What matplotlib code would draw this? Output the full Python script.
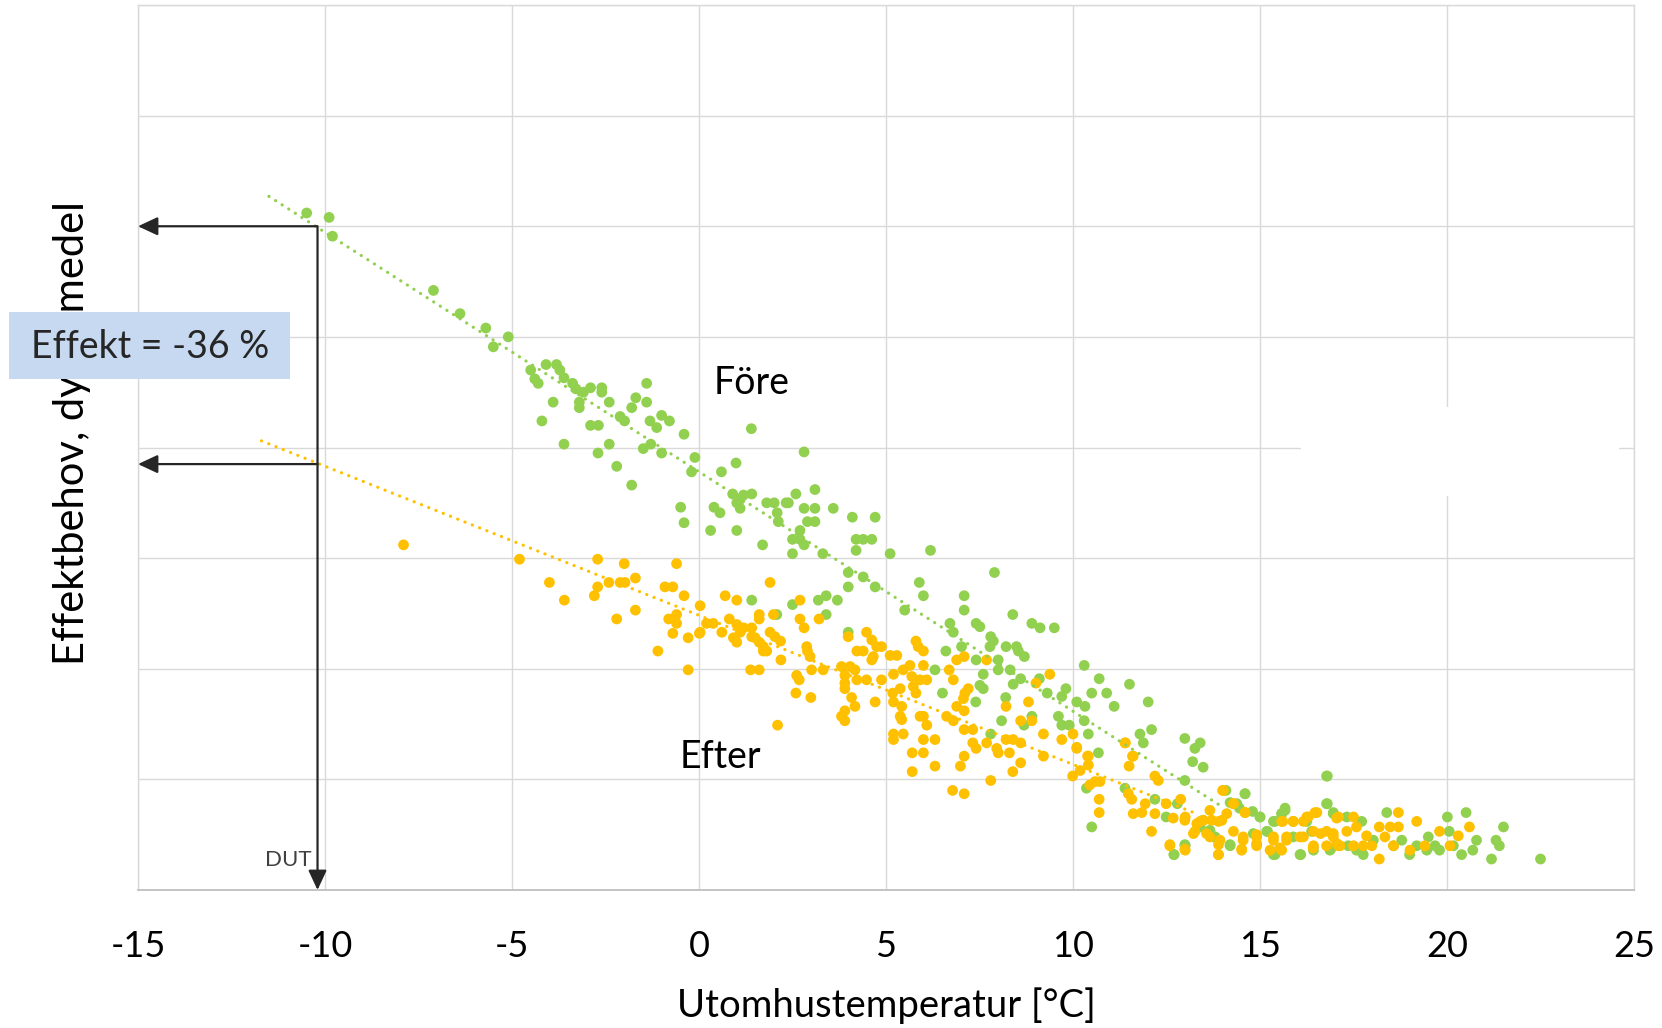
import matplotlib
matplotlib.use("Agg")
import matplotlib.pyplot as plt
from matplotlib.patches import Rectangle

plt.rcParams['font.family'] = ['Lato', 'DejaVu Sans']
plt.rcParams['axes.unicode_minus'] = False

# ---------------- data ----------------
fore_x = [-10.49, -9.89, -9.80, -7.10, -6.39, -5.70, -5.10, -5.50, -4.50, -4.39, -4.30, -4.09, -3.81, -3.72,
          -3.90, -4.20, -3.61, -3.38, -3.29, -3.09, -2.90, -2.60, -2.60, -3.20, -3.20, -2.40, -1.80, -1.69,
          -1.40, -1.40, -2.11, -1.99, -2.90, -2.69, -3.61, -2.40, -2.70, -2.20, -1.80, -1.31, -1.13, -1.00,
          -0.79, -0.40, -1.49, -1.29, -1.00, -0.11, -0.20, 0.60, 0.99, 0.90, -0.49, 0.40, -0.40, 1.40,
          2.81, 1.10, 1.19, 1.41, 1.01, 1.10, 0.56, 0.31, 1.01, 1.81, 2.01, 2.09, 2.12, 2.33, 2.39, 2.59,
          3.10, 2.81, 3.10, 3.59, 2.90, 3.10, 2.70, 2.50, 2.70, 2.81, 1.70, 2.50, 3.31, 4.10, 4.71, 4.20,
          4.39, 4.62, 4.20, 5.11, 6.19, 3.99, 3.99, 4.39, 4.71, 1.41, 2.50, 3.19, 3.40, 3.70, 3.40, 2.08,
          7.90, 5.89, 6.00, 5.50, 7.09, 7.09, 8.39, 6.71, 6.80, 7.41, 7.51, 7.80, 7.87, 8.90, 9.12, 9.50,
          3.99, 7.02, 6.60, 7.78, 8.21, 8.49, 8.54, 8.70, 7.41, 8.00, 8.00, 8.32, 6.31, 7.60, 7.51, 7.60,
          8.60, 8.40, 9.10, 10.30, 10.70, 11.51, 9.81, 10.50, 10.90, 9.31, 9.70, 10.10, 10.32, 12.01, 11.10,
          8.20, 6.51, 7.40, 8.90, 9.61, 9.70, 9.90, 10.30, 8.09, 8.69, 12.10, 11.79, 11.88, 10.41, 10.68,
          7.80,
          12.99, 13.40, 13.26, 13.20, 13.48, 12.99, 16.80, 14.60, 14.09, 14.20, 14.45, 14.80, 15.00, 15.67,
          15.58, 16.80, 16.96, 15.40, 15.20, 15.89, 16.25, 16.38, 12.70, 12.99, 14.20, 15.40, 16.09, 16.89,
          13.66, 13.75, 14.82, 11.39, 12.19, 12.49, 12.79, 13.48, 10.50, 10.36,
          18.39, 20.01, 20.51, 21.51, 21.31, 21.40, 20.79, 20.69, 20.39, 21.19, 22.50, 19.50, 19.68, 19.80,
          19.00, 18.79, 20.06, 19.46, 17.76, 17.58, 17.36, 18.03, 18.57, 19.19, 20.17, 17.72, 17.32,
          15.36, 15.67, 15.58, 16.78, 16.78, 16.96, 15.36, 16.07, 16.43, 16.87, 15.00, 15.18, 14.20, 13.80,
          12.70, 13.00, 14.60, 14.38, 13.40, 13.66, 15.89]
fore_y = [6.12, 6.08, 5.91, 5.42, 5.21, 5.08, 5.00, 4.91, 4.70, 4.62, 4.58, 4.75, 4.75, 4.70,
          4.41, 4.24, 4.63, 4.58, 4.53, 4.50, 4.54, 4.54, 4.50, 4.41, 4.36, 4.41, 4.36, 4.45,
          4.58, 4.41, 4.28, 4.24, 4.20, 4.20, 4.03, 4.03, 3.95, 3.83, 3.66, 4.24, 4.18, 4.29,
          4.24, 4.12, 3.99, 4.03, 3.95, 3.91, 3.78, 3.78, 3.86, 3.58, 3.46, 3.46, 3.32, 4.17,
          3.96, 3.53, 3.57, 3.58, 3.50, 3.45, 3.41, 3.25, 3.25, 3.50, 3.50, 3.41, 3.33, 3.50, 3.50, 3.58,
          3.62, 3.45, 3.45, 3.45, 3.33, 3.33, 3.25, 3.17, 3.17, 3.12, 3.12, 3.04, 3.04, 3.37, 3.37, 3.17,
          3.17, 3.17, 3.07, 3.04, 3.07, 2.87, 2.74, 2.83, 2.74, 2.62, 2.58, 2.62, 2.66, 2.62, 2.49, 2.49,
          2.87, 2.78, 2.66, 2.53, 2.66, 2.53, 2.49, 2.41, 2.33, 2.41, 2.38, 2.29, 2.25, 2.41, 2.37, 2.37,
          2.33, 2.20, 2.16, 2.20, 2.20, 2.20, 2.16, 2.11, 2.08, 2.08, 1.99, 1.99, 1.99, 1.95, 1.85, 1.82,
          1.91, 1.86, 1.91, 2.03, 1.91, 1.86, 1.82, 1.78, 1.78, 1.78, 1.75, 1.70, 1.66, 1.70, 1.66,
          1.74, 1.78, 1.70, 1.57, 1.57, 1.49, 1.49, 1.53, 1.53, 1.49, 1.45, 1.41, 1.33, 1.41, 1.24,
          1.41,
          1.37, 1.33, 1.28, 1.16, 1.11, 0.99, 1.03, 0.87, 0.90, 0.79, 0.74, 0.71, 0.66, 0.74,
          0.69, 0.78, 0.69, 0.62, 0.53, 0.62, 0.62, 0.53, 0.32, 0.41, 0.41, 0.32, 0.32, 0.37,
          0.54, 0.48, 0.51, 0.92, 0.82, 0.66, 0.78, 0.63, 0.57, 0.92,
          0.70, 0.66, 0.70, 0.57, 0.45, 0.40, 0.45, 0.36, 0.32, 0.28, 0.28, 0.48, 0.40, 0.36,
          0.32, 0.45, 0.53, 0.36, 0.32, 0.36, 0.40, 0.45, 0.40, 0.40, 0.40, 0.62, 0.66,
          0.62, 0.72, 0.69, 1.03, 0.78, 0.70, 0.32, 0.32, 0.36, 0.36, 0.66, 0.53, 0.40, 0.48,
          0.32, 0.40, 0.87, 0.78, 0.57, 0.53, 0.48]

efter_x = [-7.90, -4.80, -4.00, -3.60, -2.71, -2.00, -0.60, -2.71, -2.80, -2.41, -2.11, -1.98, -1.70,
           -1.70, -2.20, -0.91, -0.70, -0.40, -0.60, -0.81, -0.60, -0.70, -0.29, 0.01, -1.10, -0.29,
           1.90, 0.70, 1.01, 2.70, 0.03, 1.99, 1.61, 1.61, 2.70, 3.21, 0.20, 0.38, 0.81, 1.01, 1.19, 1.41,
           2.81, 0.03, 0.61, 1.10, 1.41, 1.50, 0.92, 1.01, 1.90, 2.03, 2.18, 1.61, 1.72, 1.72, 1.81, 2.19,
           2.88, 2.90, 2.97, 3.99, 4.48, 4.62, 4.75, 4.88, 4.22, 4.39, 4.66, 4.62, 5.11, 5.29, 5.80, 6.00,
           5.86, 1.38, 1.61, 2.61, 2.68, 3.01, 3.32, 3.81, 4.04, 4.17, 3.90, 4.22, 4.48, 4.88, 5.20, 5.46,
           5.64, 6.00, 5.69, 5.91, 6.09, 3.90, 3.90, 2.59, 2.99, 4.08, 4.17, 3.90, 3.81, 3.90, 4.71, 5.18,
           5.20, 5.38, 5.42, 5.38, 5.42, 5.73, 5.80, 5.91, 6.09, 6.00, 2.10, 6.69, 6.80, 6.89, 7.09, 7.69,
           7.20, 7.11, 7.07, 6.89, 7.09, 6.62, 6.80, 9.38, 9.01, 8.81, 8.21, 8.60, 8.90, 7.09, 7.32, 5.20,
           5.46, 5.20, 6.00, 6.31, 5.70, 6.00, 9.21, 9.70, 10.00, 10.10, 11.40, 11.61, 7.69, 8.21, 8.40,
           8.60, 7.96, 8.00, 8.30, 7.32, 7.41, 7.09, 10.39, 9.21,
           14.00, 14.29, 14.60, 15.61, 15.89, 16.25, 16.47, 16.62, 16.96, 17.05, 17.05, 15.36, 15.71,
           14.91, 14.51, 14.91, 14.55, 16.16, 16.42, 15.53, 13.89, 13.89, 13.57, 13.71, 13.66, 13.98,
           14.11, 13.22, 13.31, 12.99, 12.68, 12.59, 12.99, 13.48, 12.10, 12.49, 12.88, 12.19, 11.93,
           11.61, 11.84, 11.57, 11.48, 12.28, 12.19, 10.59, 10.45, 10.72, 10.70, 10.70, 9.99, 10.19,
           10.41, 10.41, 11.50, 11.59, 11.39, 10.10, 6.78, 7.09, 7.80, 8.39, 6.99, 5.70, 6.31, 8.60,
           18.70, 19.19, 20.60, 20.30, 19.80, 20.08, 18.19, 18.19, 18.48, 18.70, 18.34, 18.57, 19.01,
           19.41, 17.50, 17.58, 17.32, 17.85, 17.50, 17.14, 17.76, 17.99,
           15.58, 15.89, 16.16, 16.52, 16.29, 16.43, 16.78, 16.96, 17.10, 17.10, 16.78, 16.43, 16.07,
           15.71, 15.36, 14.91, 14.55, 14.29, 14.51, 14.91, 15.27, 15.58, 14.29, 14.02, 14.60, 13.89,
           13.89, 13.66, 13.40, 13.00, 13.00, 12.59, 13.26, 13.93]
efter_y = [3.12, 2.99, 2.78, 2.62, 2.99, 2.95, 2.95, 2.74, 2.66, 2.78, 2.78, 2.78, 2.82,
           2.53, 2.45, 2.74, 2.74, 2.66, 2.49, 2.45, 2.41, 2.32, 2.28, 2.32, 2.16, 1.99,
           2.78, 2.66, 2.62, 2.62, 2.57, 2.49, 2.49, 2.45, 2.45, 2.45, 2.41, 2.41, 2.45, 2.40, 2.37, 2.37,
           2.37, 2.33, 2.33, 2.33, 2.29, 2.28, 2.28, 2.24, 2.33, 2.29, 2.25, 2.24, 2.20, 2.16, 2.16, 2.08,
           2.20, 2.16, 2.11, 2.29, 2.33, 2.26, 2.20, 2.20, 2.16, 2.16, 2.11, 2.08, 2.12, 2.12, 2.25, 2.16,
           2.20, 1.99, 1.99, 1.94, 1.90, 1.99, 1.99, 2.02, 2.02, 1.99, 1.94, 1.90, 1.90, 1.90, 1.95, 1.99,
           2.03, 2.03, 1.93, 1.90, 1.90, 1.87, 1.82, 1.78, 1.74, 1.74, 1.66, 1.62, 1.57, 1.53, 1.70, 1.78,
           1.70, 1.82, 1.66, 1.57, 1.54, 1.84, 1.78, 1.57, 1.49, 1.57, 1.49, 1.99, 1.90, 2.08, 2.11, 2.08,
           1.82, 1.78, 1.73, 1.66, 1.62, 1.57, 1.53, 1.95, 1.87, 1.70, 1.66, 1.53, 1.53, 1.45, 1.45, 1.41,
           1.41, 1.36, 1.36, 1.36, 1.24, 1.24, 1.41, 1.36, 1.41, 1.28, 1.33, 1.21, 1.33, 1.36, 1.36,
           1.33, 1.28, 1.24, 1.24, 1.33, 1.28, 1.21, 1.21, 1.21,
           0.90, 0.78, 0.70, 0.62, 0.62, 0.66, 0.70, 0.51, 0.51, 0.42, 0.65, 0.45, 0.45,
           0.42, 0.37, 0.50, 0.45, 0.48, 0.38, 0.38, 0.32, 0.41, 0.51, 0.63, 0.72, 0.63,
           0.69, 0.51, 0.60, 0.63, 0.65, 0.41, 0.37, 0.63, 0.53, 0.78, 0.82, 0.69, 0.78,
           0.69, 0.70, 0.82, 0.87, 0.99, 1.03, 0.98, 0.95, 0.98, 0.82, 0.70, 1.03, 1.08,
           1.13, 1.21, 1.12, 1.21, 1.33, 1.29, 0.90, 0.87, 0.99, 1.07, 1.12, 1.07, 1.12, 1.15,
           0.70, 0.62, 0.57, 0.49, 0.53, 0.40, 0.28, 0.57, 0.57, 0.57, 0.48, 0.40, 0.36,
           0.40, 0.66, 0.57, 0.53, 0.49, 0.40, 0.40, 0.40, 0.40,
           0.62, 0.62, 0.62, 0.70, 0.66, 0.53, 0.53, 0.48, 0.66, 0.40, 0.40, 0.40, 0.48,
           0.48, 0.48, 0.48, 0.48, 0.53, 0.36, 0.40, 0.36, 0.36, 0.78, 0.90, 0.70, 0.62,
           0.32, 0.48, 0.62, 0.66, 0.36, 0.40, 0.53, 0.45]

# linear trend lines (end points)
fore_trend_x = [-11.5, 14.0]
fore_trend_y = [6.27, 0.75]
efter_trend_x = [-11.7, 13.3]
efter_trend_y = [4.06, 0.69]

dut_x = -10.2
dut_fore = 6.0
dut_efter = 3.85

x_ticks = [-15, -10, -5, 0, 5, 10, 15, 20, 25]
y_ticks = [0, 1, 2, 3, 4, 5, 6, 7, 8]

GREEN = '#92D050'
ORANGE = '#FFC000'
DARK = '#262626'
GRID = '#D9D9D9'

# ---------------- figure ----------------
fig = plt.figure(figsize=(16.62, 10.28), dpi=100)
ax = fig.add_axes([138/1662, 1 - 890/1028, (1634-138)/1662, (890-5)/1028])

ax.set_xlim(x_ticks[0], x_ticks[-1])
ax.set_ylim(y_ticks[0], y_ticks[-1])
ax.set_xticks(x_ticks)
ax.set_yticks(y_ticks)
ax.set_yticklabels([])
ax.grid(True, color=GRID, linewidth=1.0, zorder=0)
ax.set_axisbelow(True)
for side in ['top', 'right', 'left']:
    ax.spines[side].set_color(GRID)
    ax.spines[side].set_linewidth(1.0)
ax.spines['bottom'].set_color('#BFBFBF')
ax.spines['bottom'].set_linewidth(1.3)
ax.tick_params(axis='both', length=0)
ax.tick_params(axis='x', labelsize=26, pad=29, colors='black')

# hidden legend area (white box over the grid)
ax.add_patch(Rectangle((16.1, 3.56), 8.5, 0.81, facecolor='white', edgecolor='none', zorder=0.8))

ax.scatter(fore_x, fore_y, s=60, color=GREEN, edgecolors='none', zorder=3)
ax.scatter(efter_x, efter_y, s=60, color=ORANGE, edgecolors='none', zorder=4)

ax.plot(fore_trend_x, fore_trend_y, color=GREEN, linewidth=2.3, linestyle=(0, (0.05, 2.4)),
        dash_capstyle='round', zorder=5)
ax.plot(efter_trend_x, efter_trend_y, color=ORANGE, linewidth=2.3, linestyle=(0, (0.05, 2.4)),
        dash_capstyle='round', zorder=5)

arrow_kw = dict(arrowstyle='-|>,head_length=0.6,head_width=0.28', color=DARK, lw=1.6,
                shrinkA=0, shrinkB=0, mutation_scale=20)
ax.annotate('', xy=(dut_x, y_ticks[0]), xytext=(dut_x, dut_fore), arrowprops=arrow_kw,
            annotation_clip=False, zorder=6)
ax.annotate('', xy=(x_ticks[0], dut_fore), xytext=(dut_x - 0.02, dut_fore), arrowprops=arrow_kw,
            annotation_clip=False, zorder=6)
ax.annotate('', xy=(x_ticks[0], dut_efter), xytext=(dut_x, dut_efter), arrowprops=arrow_kw,
            annotation_clip=False, zorder=6)

ax.text(dut_x - 0.15, 0.27, 'DUT', fontsize=16, color='#404040', ha='right', va='center', zorder=6)
ax.text(1.42, 4.58, 'Före', fontsize=27, color='black', ha='center', va='center', zorder=6)
ax.text(0.56, 1.20, 'Efter', fontsize=27, color='black', ha='center', va='center', zorder=6)

# axis titles
fig.text(886/1662, 1 - 1006/1028, 'Utomhustemperatur [°C]', fontsize=27.5, ha='center', va='center')
fig.text(72/1662, 1 - 433/1028, 'Effektbehov, dygnsmedel', fontsize=30, rotation=90,
         ha='center', va='center', zorder=2)

# result box
fig.patches.append(Rectangle((8.5/1662, 1 - 379/1028), 281.5/1662, 67/1028,
                             transform=fig.transFigure, facecolor='#C6D9F1', edgecolor='none', zorder=5))
fig.text(150/1662, 1 - 347/1028, 'Effekt = -36 %', fontsize=27, color=DARK, ha='center', va='center',
         zorder=6)

fig.savefig('out.png', dpi=100)
